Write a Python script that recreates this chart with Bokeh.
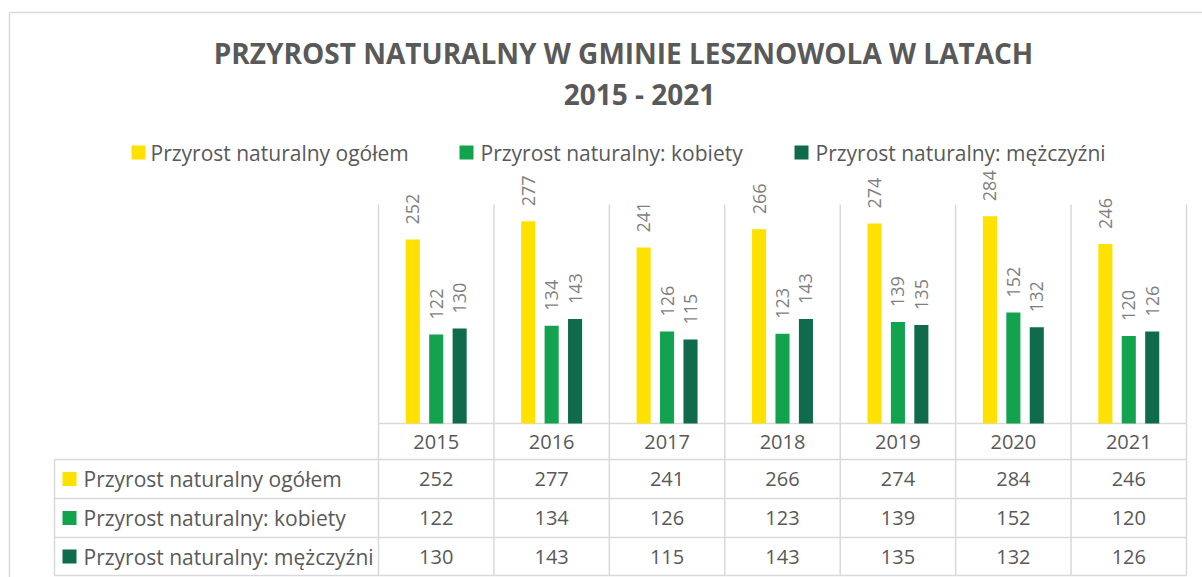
import math
from bokeh.plotting import figure
from bokeh.models import Range1d
from bokeh.core.properties import value
from bokeh.embed import file_html
from bokeh.resources import INLINE

# ---------------- data ----------------
years = ["2015", "2016", "2017", "2018", "2019", "2020", "2021"]
ogolem = [252, 277, 241, 266, 274, 284, 246]
kobiety = [122, 134, 126, 123, 139, 152, 120]
mezczyzni = [130, 143, 115, 143, 135, 132, 126]
series_names = ["Przyrost naturalny ogółem",
                "Przyrost naturalny: kobiety",
                "Przyrost naturalny: mężczyźni"]
series_values = [ogolem, kobiety, mezczyzni]
colors = ["#FFE100", "#13A34F", "#106B4C"]
title_lines = ["PRZYROST NATURALNY W GMINIE LESZNOWOLA W LATACH", "2015 - 2021"]
y_max = 300

# ---------------- layout (canvas pixels) ----------------
W, H = 1202, 577
COL0 = 378.0
COLW = 808.0 / len(years)
BASE = 423.0
PPU = 219.0 / y_max

FONT = value("Open Sans")
TXT = "#595959"
LBL = "#7F7F7F"
GRID = "#D9D9D9"


def X(px):
    return (px - COL0) / COLW


def Y(py):
    return (BASE - py) / PPU


p = figure(width=W, height=H, x_range=Range1d(X(0), X(W)), y_range=Range1d(Y(H), Y(0)),
           output_backend="svg", toolbar_location=None, min_border=0,
           x_axis_location=None, y_axis_location=None)
p.grid.visible = False
p.outline_line_color = None
p.background_fill_color = "white"
p.border_fill_color = "white"

# outer chart border
p.line([X(9), X(W)], [Y(12), Y(12)], line_color=GRID, line_width=1.5)
p.line([X(9), X(9)], [Y(12), Y(H)], line_color=GRID, line_width=1.5)

# title
p.text(x=[X(623)], y=[Y(52)], text=[title_lines[0]], text_font=FONT, text_font_style="bold",
       text_font_size="28px", text_color=TXT, text_align="center", text_baseline="middle")
p.text(x=[X(639)], y=[Y(93)], text=[title_lines[1]], text_font=FONT, text_font_style="bold",
       text_font_size="28px", text_color=TXT, text_align="center", text_baseline="middle")

# legend
leg_sq = [138, 466, 801]
leg_tx = [150, 480, 815]
for name, c, sx, tx in zip(series_names, colors, leg_sq, leg_tx):
    p.scatter(x=[X(sx)], y=[Y(152)], marker="square", size=14, fill_color=c, line_color=None)
    p.text(x=[X(tx)], y=[Y(152)], text=[name], text_font=FONT, text_font_size="21px",
           text_color=TXT, text_align="left", text_baseline="middle")

# gridlines / table lines
n = len(years)
row_lines = [459, 498, 537, 575]
p.segment(x0=list(range(n + 1)), y0=[y_max] * (n + 1), x1=list(range(n + 1)), y1=[Y(575)] * (n + 1),
          line_color=GRID, line_width=1.5)
p.segment(x0=[0], y0=[0], x1=[n], y1=[0], line_color=GRID, line_width=1.5)
p.segment(x0=[X(54)] * len(row_lines), y0=[Y(r) for r in row_lines],
          x1=[n] * len(row_lines), y1=[Y(r) for r in row_lines], line_color=GRID, line_width=1.5)
p.segment(x0=[X(54)], y0=[Y(459)], x1=[X(54)], y1=[Y(575)], line_color=GRID, line_width=1.5)

# bars + labels
offsets = [-0.203, 0.0, 0.203]
bw = 0.122
lab_off = 15 / PPU
for vals, c, dx in zip(series_values, colors, offsets):
    xs = [i + 0.5 + dx for i in range(n)]
    p.vbar(x=xs, top=vals, width=bw, bottom=0, fill_color=c, line_color=None)
    p.text(x=xs, y=[v + lab_off for v in vals], text=[str(v) for v in vals], angle=math.pi / 2,
           text_font=FONT, text_font_size="18px", text_color=LBL, text_align="left",
           text_baseline="middle")

# table header (years)
xc = [i + 0.5 for i in range(n)]
p.text(x=xc, y=[Y(441)] * n, text=years, text_font=FONT, text_font_size="20px", text_color=TXT,
       text_align="center", text_baseline="middle")

# table rows
row_centers = [(row_lines[k] + row_lines[k + 1]) / 2 for k in range(3)]
for name, c, vals, rc in zip(series_names, colors, series_values, row_centers):
    p.scatter(x=[X(69)], y=[Y(rc)], marker="square", size=14, fill_color=c, line_color=None)
    p.text(x=[X(83)], y=[Y(rc)], text=[name], text_font=FONT, text_font_size="21px",
           text_color=TXT, text_align="left", text_baseline="middle")
    p.text(x=xc, y=[Y(rc)] * n, text=[str(v) for v in vals], text_font=FONT, text_font_size="20px",
           text_color=TXT, text_align="center", text_baseline="middle")

open("out.html", "w").write(file_html(p, INLINE))
